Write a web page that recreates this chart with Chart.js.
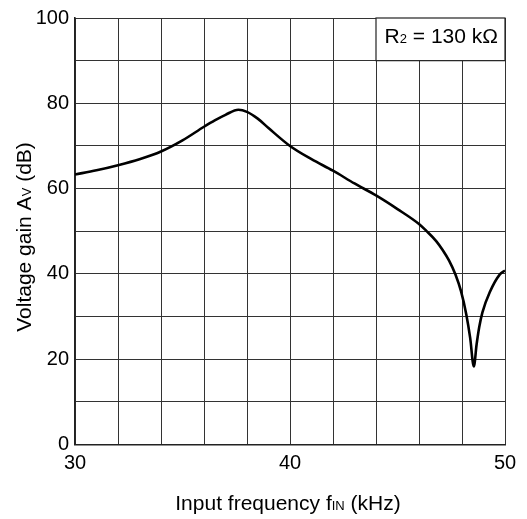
<!DOCTYPE html>
<html>
<head>
<meta charset="utf-8">
<script src="https://cdn.jsdelivr.net/npm/chart.js@4.4.0/dist/chart.umd.min.js"></script>
<style>
    html, body { margin: 0; padding: 0; background: #fff; }
    #chart1 { display: block; }
</style>
</head>
<body>
<canvas id="chart1" width="527" height="519"></canvas>
<script>
// valores
const frecuencias = [30, 31, 32, 33, 34, 35, 36, 36.5, 37, 37.6, 38, 38.5, 39, 40, 41, 42, 43, 44, 45, 46, 46.34, 46.8, 47.1, 47.4, 47.7, 47.95, 48.2, 48.38, 48.55, 48.68, 48.8, 48.95, 49.29, 49.76, 50];
const ganancias = [63.3, 64.3, 65.5, 66.9, 68.7, 71.3, 74.5, 76.0, 77.3, 78.5, 78.0, 76.4, 74.2, 70.0, 66.9, 64.2, 61.2, 58.4, 55.2, 51.7, 50.1, 47.7, 45.6, 43.1, 39.8, 36.0, 30.5, 25.0, 18.3, 23.5, 27.5, 31.0, 35.7, 39.9, 40.8];
const ticksX = [30, 40, 50];
const ticksY = [0, 20, 40, 60, 80, 100];

const fuente = "'Liberation Sans', Arial, sans-serif";

// dibuja texto con subindice: partes = [[texto, esSub], ...]
function anchoPartes(ctx, partes, tam) {
    let w = 0;
    partes.forEach((p) => {
        ctx.font = (p[1] ? tam * 0.62 : tam) + 'px ' + fuente;
        w += ctx.measureText(p[0]).width;
    });
    return w;
}
function textoConSub(ctx, partes, x, y, tam) {
    let cx = x;
    partes.forEach((p) => {
        ctx.font = (p[1] ? tam * 0.62 : tam) + 'px ' + fuente;
        ctx.fillText(p[0], cx, y);
        cx += ctx.measureText(p[0]).width;
    });
}

const extras = {
    id: 'extras',
    afterDraw(chart) {
        const ctx = chart.ctx;
        const sx = chart.scales.x;
        const sy = chart.scales.y;
        ctx.save();
        ctx.textBaseline = 'alphabetic';

        // recuadro R2
        const x0 = sx.getPixelForValue(44), x1 = sx.getPixelForValue(50);
        const y0 = sy.getPixelForValue(100), y1 = sy.getPixelForValue(90);
        ctx.fillStyle = '#fff';
        ctx.fillRect(x0, y0, x1 - x0, y1 - y0);
        ctx.strokeStyle = '#222';
        ctx.lineWidth = 1.2;
        ctx.strokeRect(x0, y0, x1 - x0, y1 - y0);
        ctx.fillStyle = '#000';
        const etiqueta = [['R', false], ['2', true], [' = 130 k\u03A9', false]];
        const wE = anchoPartes(ctx, etiqueta, 21);
        textoConSub(ctx, etiqueta, x1 - 7 - wE, 43, 21);

        // titulo eje x
        const tx = [['Input frequency f', false], ['IN', true], [' (kHz)', false]];
        const wX = anchoPartes(ctx, tx, 21);
        textoConSub(ctx, tx, 288 - wX / 2, 510, 21);

        // titulo eje y
        const ty = [['Voltage gain A', false], ['V', true], [' (dB)', false]];
        const wY = anchoPartes(ctx, ty, 21);
        ctx.translate(31, 237);
        ctx.rotate(-Math.PI / 2);
        textoConSub(ctx, ty, -wY / 2, 0, 21);
        ctx.restore();
    }
};

const data = {
    datasets: [{
        data: frecuencias.map((f, i) => { return { x: f, y: ganancias[i] } }),
        borderColor: '#000',
        borderWidth: 2.6,
        pointRadius: 0,
        cubicInterpolationMode: 'monotone',
        fill: false
    }]
};

const config = {
    type: 'line',
    data: data,
    options: {
        responsive: false,
        animation: false,
        layout: { padding: { top: 13.5, right: 22, left: 0, bottom: 0 } },
        plugins: {
            legend: { display: false },
            tooltip: { enabled: false }
        },
        scales: {
            x: {
                type: 'linear',
                min: 30,
                max: 50,
                border: { color: '#222', width: 1.6 },
                grid: { color: '#333', lineWidth: 1, drawTicks: false },
                ticks: {
                    stepSize: 2,
                    padding: 7,
                    color: '#000',
                    font: { family: fuente, size: 20 },
                    callback: (v) => ticksX.includes(v) ? v : ''
                },
                afterFit: (s) => { s.height = 74.5; }
            },
            y: {
                min: 0,
                max: 100,
                border: { color: '#222', width: 1.6 },
                grid: { color: '#333', lineWidth: 1, drawTicks: false },
                ticks: {
                    stepSize: 10,
                    padding: 6,
                    color: '#000',
                    font: { family: fuente, size: 20 },
                    callback: (v) => ticksY.includes(v) ? v : ''
                },
                afterFit: (s) => { s.width = 75; }
            }
        }
    },
    plugins: [extras]
};

const canva = document.getElementById('chart1');
const grafico = new Chart(canva, config);
</script>
</body>
</html>
